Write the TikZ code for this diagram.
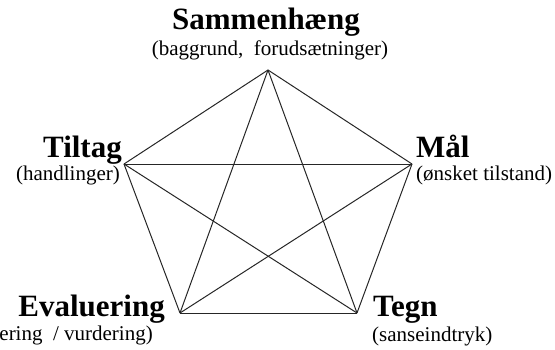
\documentclass[tikz,border=0pt]{standalone}
\usepackage{fontspec}
\setmainfont{Liberation Serif}
\usepackage{tikz}
\usetikzlibrary{positioning}

\begin{document}
\begin{tikzpicture}[x=1pt,y=-1pt]

%--------------------------------------------------
% STYLES
%--------------------------------------------------

\tikzset{
cornertitle/.style={
font=\fontsize{31}{34}\selectfont\bfseries,
inner sep=0pt
},
cornersub/.style={
font=\fontsize{21}{24}\selectfont,
inner sep=0pt
},
starline/.style={
line width=1pt,
black!85
}
}

\useasboundingbox (0,0) rectangle (555,349);

%--------------------------------------------------
% CORNERS
%--------------------------------------------------

\coordinate (samm) at (268,70);
\coordinate (tilt) at (124,164);
\coordinate (maal) at (412,164);
\coordinate (eval) at (180,313);
\coordinate (tegn) at (357,313);

%--------------------------------------------------
% PENTAGON AND STAR
%--------------------------------------------------

\foreach \a/\b in {samm/tilt,samm/maal,tilt/eval,maal/tegn,eval/tegn,
                   samm/eval,samm/tegn,tilt/maal,tilt/tegn,maal/eval}
{
\draw[starline] (\a)--(\b);
}

%--------------------------------------------------
% LABELS
%--------------------------------------------------

\node[cornertitle,anchor=base] (sammT)
at (266,29)
{Sammenhæng};

\node[cornersub,anchor=base] (sammS)
at (270,55)
{(baggrund,\ \ forudsætninger)};

\node[cornertitle,anchor=base east] (tiltT)
at (122,157)
{Tiltag};

\node[cornersub,anchor=base east] (tiltS)
at (120,180)
{(handlinger)};

\node[cornertitle,anchor=base west] (maalT)
at (416,157)
{Mål};

\node[cornersub,anchor=base west] (maalS)
at (416,180)
{(ønsket tilstand)};

\node[cornertitle,anchor=base east] (evalT)
at (165,316)
{Evaluering};

\node[cornersub,anchor=base east] (evalS)
at (153,340)
{ering\ \ / vurdering)};

\node[cornertitle,anchor=base west] (tegnT)
at (373,316)
{Tegn};

\node[cornersub,anchor=base west] (tegnS)
at (372,341)
{(sanseindtryk)};

\end{tikzpicture}
\end{document}
